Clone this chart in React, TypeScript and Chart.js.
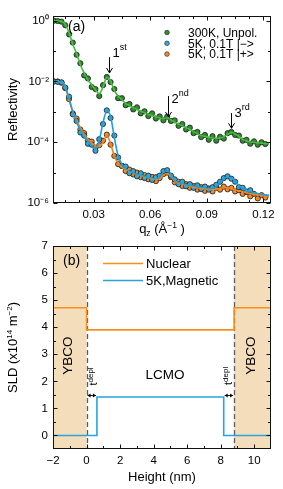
import React, { useEffect, useRef } from "react";
import { Chart, registerables } from "chart.js";

Chart.register(...registerables);

const FONT = "'Liberation Sans', Arial, Helvetica, sans-serif";

// ---------------- Panel (a): reflectivity (values are log10 R) ----------------
const qPoints = [0.009, 0.011, 0.013, 0.015, 0.017, 0.019, 0.021, 0.023, 0.025, 0.027, 0.029, 0.031, 0.033, 0.035, 0.037, 0.039, 0.041, 0.043, 0.045, 0.047, 0.049, 0.051, 0.053, 0.055, 0.057, 0.059, 0.061, 0.063, 0.065, 0.067, 0.069, 0.071, 0.073, 0.075, 0.077, 0.079, 0.081, 0.083, 0.085, 0.087, 0.089, 0.091, 0.093, 0.095, 0.097, 0.099, 0.101, 0.103, 0.105, 0.107, 0.109, 0.111, 0.113, 0.115, 0.117, 0.119, 0.121];
const qFit = [...qPoints, 0.123];

const green300KLog = [0.0, -0.01, -0.03, -0.15, -0.45, -0.72, -1.12, -1.4, -1.8, -1.9, -2.18, -2.25, -2.48, -2.12, -1.85, -2.02, -2.25, -2.55, -2.55, -2.78, -2.74, -2.92, -2.85, -3.05, -2.98, -3.14, -3.05, -3.22, -3.15, -3.28, -3.16, -3.3, -3.28, -3.46, -3.4, -3.58, -3.52, -3.7, -3.66, -3.83, -3.76, -3.92, -3.8, -3.95, -3.82, -3.88, -3.7, -3.66, -3.76, -3.78, -3.95, -3.92, -4.05, -3.97, -4.08, -4.0, -4.06];
const blue5KLog = [-2.0, -2.01, -2.03, -2.2, -2.5, -3.08, -3.3, -3.68, -3.78, -4.05, -4.08, -4.28, -3.9, -3.4, -2.95, -3.2, -3.78, -4.5, -4.78, -4.8, -5.02, -4.95, -5.12, -5.02, -5.18, -5.1, -5.24, -5.15, -5.1, -4.95, -4.92, -5.1, -5.22, -5.38, -5.3, -5.45, -5.38, -5.5, -5.42, -5.54, -5.46, -5.56, -5.48, -5.4, -5.3, -5.18, -5.12, -5.2, -5.3, -5.48, -5.5, -5.62, -5.58];
const orange5KLog = [-2.0, -2.0, -2.04, -2.22, -2.58, -3.05, -3.22, -3.58, -3.7, -3.95, -3.98, -4.18, -4.1, -3.95, -3.75, -4.08, -4.45, -4.72, -4.78, -4.95, -4.9, -5.06, -5.0, -5.15, -5.08, -5.22, -5.14, -5.28, -5.18, -5.05, -5.0, -5.15, -5.32, -5.3, -5.44, -5.38, -5.5, -5.44, -5.56, -5.48, -5.6, -5.52, -5.62, -5.5, -5.56, -5.46, -5.55, -5.5, -5.62, -5.58, -5.7, -5.64, -5.78, -5.7, -5.85, -5.74, -5.82];

const green300KFitLog = [0.0, 0.0, -0.02, -0.12, -0.4, -0.78, -1.08, -1.45, -1.72, -1.95, -2.1, -2.28, -2.4, -2.18, -1.87, -1.98, -2.3, -2.48, -2.6, -2.72, -2.8, -2.86, -2.92, -2.98, -3.03, -3.08, -3.12, -3.16, -3.2, -3.22, -3.2, -3.26, -3.34, -3.4, -3.46, -3.52, -3.58, -3.65, -3.72, -3.77, -3.81, -3.84, -3.86, -3.87, -3.86, -3.82, -3.74, -3.68, -3.72, -3.82, -3.9, -3.96, -3.99, -4.01, -4.02, -4.03, -4.04, -4.05];
const blue5KFitLog = [-2.0, -2.0, -2.02, -2.15, -2.55, -3.0, -3.35, -3.6, -3.82, -3.97, -4.12, -4.22, -3.95, -3.35, -2.98, -3.15, -3.85, -4.45, -4.72, -4.86, -4.95, -5.0, -5.05, -5.08, -5.12, -5.15, -5.18, -5.2, -5.14, -4.98, -4.93, -5.05, -5.25, -5.32, -5.36, -5.4, -5.42, -5.44, -5.46, -5.48, -5.5, -5.52, -5.52, -5.46, -5.32, -5.2, -5.15, -5.17, -5.28, -5.42, -5.53, -5.58, -5.63, -5.66, -5.69, -5.71, -5.73, -5.75];
const orange5KFitLog = [-2.0, -2.0, -2.02, -2.18, -2.62, -3.0, -3.28, -3.52, -3.75, -3.9, -4.02, -4.12, -4.15, -4.0, -3.78, -4.05, -4.45, -4.7, -4.83, -4.9, -4.96, -5.01, -5.06, -5.1, -5.14, -5.17, -5.2, -5.22, -5.2, -5.08, -5.03, -5.12, -5.28, -5.35, -5.38, -5.42, -5.45, -5.48, -5.5, -5.52, -5.54, -5.55, -5.56, -5.55, -5.52, -5.5, -5.5, -5.53, -5.57, -5.6, -5.63, -5.66, -5.69, -5.71, -5.73, -5.75, -5.76, -5.77];

const seriesLabelsA = ["300K, Unpol.", "5K, 0.1T |\u2212>", "5K, 0.1T |+>"];
const xTicksA = [0.03, 0.06, 0.09, 0.12];
const xMinorA = [0.015, 0.0225, 0.0375, 0.045, 0.0525, 0.0675, 0.075, 0.0825, 0.0975, 0.105, 0.1125];
const yTicksA = [1e-6, 1e-4, 1e-2, 1];
const yMinorA = [1e-5, 1e-3, 1e-1];
// Bragg-peak markers: label, superscript, q, arrow top/bottom (log10 R), label baseline (log10 R)
const braggMarks = [
  { n: "1", sup: "st", q: 0.0381, top: -1.2, bottom: -1.72, text: -1.19 },
  { n: "2", sup: "nd", q: 0.0694, top: -2.48, bottom: -3.17, text: -2.72 },
  { n: "3", sup: "rd", q: 0.1026, top: -3.04, bottom: -3.54, text: -3.18 },
];

// ---------------- Panel (b): SLD profile ----------------
const nuclearX = [-2, 0, 0, 8.8, 8.8, 11];
const nuclearY = [4.72, 4.72, 3.9, 3.9, 4.72, 4.72];
const magneticX = [-2, 0.62, 0.62, 8.18, 8.18, 11];
const magneticY = [0, 0, 1.42, 1.42, 0, 0];
const ybcoRegions = [[-2, 0], [8.8, 11]];
const interfaces = [0, 8.8];
const depletion = [[0, 0.62], [8.18, 8.8]];
const seriesLabelsB = ["Nuclear", "5K,Magnetic"];
const xTicksB = [-2, 0, 2, 4, 6, 8, 10];
const xMinorB = [-1, 1, 3, 5, 7, 9];
const yTicksB = [0, 1, 2, 3, 4, 5, 6, 7];
const yMinorB = [0.5, 1.5, 2.5, 3.5, 4.5, 5.5, 6.5];

const C = {
  greenPt: "#2f8c2f",
  bluePt: "#35a7d8",
  orangePt: "#f28a2a",
  greenLn: "#49bb3f",
  blueLn: "#1f9fd8",
  orangeLn: "#f4821e",
  nuclear: "#f7901e",
  magnetic: "#27a5dd",
  tan: "#f4ddba",
};

const SUP: Record<string, string> = { "0": "\u2070", "1": "\u00b9", "2": "\u00b2", "3": "\u00b3", "4": "\u2074", "5": "\u2075", "6": "\u2076", "-": "\u207b" };
const pow10Label = (v: number) =>
  "10" + String(Math.round(Math.log10(v))).split("").map((c) => SUP[c]).join("");

type Part = { t: string; size: number; dy?: number };

function richWidth(ctx: CanvasRenderingContext2D, parts: Part[]) {
  let w = 0;
  for (const p of parts) {
    ctx.font = `${p.size}px ${FONT}`;
    w += ctx.measureText(p.t).width;
  }
  return w;
}

// draws rich text whose visual centre is (cx, cy), rotated by angle
function drawRichCentered(ctx: CanvasRenderingContext2D, parts: Part[], cx: number, cy: number, angle = 0) {
  ctx.save();
  ctx.translate(cx, cy);
  ctx.rotate(angle);
  ctx.textAlign = "left";
  ctx.textBaseline = "alphabetic";
  ctx.fillStyle = "#000";
  let x = -richWidth(ctx, parts) / 2;
  const base = parts[0].size * 0.36;
  for (const p of parts) {
    ctx.font = `${p.size}px ${FONT}`;
    ctx.fillText(p.t, x, base + (p.dy || 0));
    x += ctx.measureText(p.t).width;
  }
  ctx.restore();
}

function drawRichLeft(ctx: CanvasRenderingContext2D, parts: Part[], x: number, baseline: number) {
  ctx.save();
  ctx.textAlign = "left";
  ctx.textBaseline = "alphabetic";
  ctx.fillStyle = "#000";
  for (const p of parts) {
    ctx.font = `${p.size}px ${FONT}`;
    ctx.fillText(p.t, x, baseline + (p.dy || 0));
    x += ctx.measureText(p.t).width;
  }
  ctx.restore();
}

function drawFrame(chart: any, xMaj: number[], xMin: number[], yMaj: number[], yMin: number[]) {
  const { ctx, chartArea: a } = chart;
  const xs = chart.scales.x;
  const ys = chart.scales.y;
  const L = Math.round(a.left) + 0.5;
  const R = Math.round(a.right) - 0.5;
  const T = Math.round(a.top) + 0.5;
  const B = Math.round(a.bottom) - 0.5;
  ctx.save();
  ctx.strokeStyle = "#111";
  ctx.lineWidth = 1;
  ctx.strokeRect(L, T, R - L, B - T);
  ctx.beginPath();
  const xt = (vals: number[], len: number) => {
    for (const v of vals) {
      const p = Math.round(xs.getPixelForValue(v)) + 0.5;
      ctx.moveTo(p, B); ctx.lineTo(p, B - len);
      ctx.moveTo(p, T); ctx.lineTo(p, T + len);
    }
  };
  const yt = (vals: number[], len: number) => {
    for (const v of vals) {
      const p = Math.round(ys.getPixelForValue(v)) + 0.5;
      ctx.moveTo(L, p); ctx.lineTo(L + len, p);
      ctx.moveTo(R, p); ctx.lineTo(R - len, p);
    }
  };
  xt(xMaj, 4); xt(xMin, 2.5); yt(yMaj, 4); yt(yMin, 2.5);
  ctx.stroke();
  ctx.restore();
}

const panelAPlugin = {
  id: "panelA",
  afterDraw(chart: any) {
    const { ctx, chartArea: a } = chart;
    const xs = chart.scales.x;
    const ys = chart.scales.y;
    drawFrame(chart, xTicksA, xMinorA, yTicksA, yMinorA);

    // Bragg peak arrows
    ctx.save();
    ctx.strokeStyle = "#000";
    ctx.lineWidth = 1;
    for (const m of braggMarks) {
      const px = Math.round(xs.getPixelForValue(m.q)) + 0.5;
      const y1 = ys.getPixelForValue(Math.pow(10, m.top));
      const y2 = ys.getPixelForValue(Math.pow(10, m.bottom));
      ctx.beginPath();
      ctx.moveTo(px, y1); ctx.lineTo(px, y2);
      ctx.moveTo(px - 3, y2 - 5); ctx.lineTo(px, y2); ctx.lineTo(px + 3, y2 - 5);
      ctx.stroke();
      const yb = ys.getPixelForValue(Math.pow(10, m.text));
      drawRichLeft(ctx, [{ t: m.n, size: 13 }, { t: m.sup, size: 9, dy: -7 }], px + 3, yb);
    }
    ctx.restore();

    // (a)
    drawRichLeft(ctx, [{ t: "(a)", size: 14 }], a.left + 15, a.top + 14.5);

    // legend
    const cols = [C.greenPt, C.bluePt, C.orangePt];
    seriesLabelsA.forEach((lab, i) => {
      const cy = a.top + 16.5 + i * 10.8;
      ctx.save();
      ctx.fillStyle = cols[i];
      ctx.strokeStyle = "#1c1c1c";
      ctx.lineWidth = 0.6;
      ctx.beginPath();
      ctx.arc(a.right - 104, cy, 2.3, 0, Math.PI * 2);
      ctx.fill();
      ctx.stroke();
      ctx.restore();
      drawRichLeft(ctx, [{ t: lab, size: 12 }], a.right - 83, cy + 4.3);
    });

    // axis titles
    drawRichCentered(ctx, [{ t: "Reflectivity", size: 13 }], 12.5, (a.top + a.bottom) / 2, -Math.PI / 2);
    drawRichCentered(
      ctx,
      [
        { t: "q", size: 13 },
        { t: "z", size: 8.5, dy: 2.5 },
        { t: " (\u00c5", size: 13 },
        { t: "\u22121", size: 8.5, dy: -5.5 },
        { t: " )", size: 13 },
      ],
      (a.left + a.right) / 2,
      a.bottom + 25.5
    );
  },
};

const panelBPlugin = {
  id: "panelB",
  beforeDatasetsDraw(chart: any) {
    const { ctx, chartArea: a } = chart;
    const xs = chart.scales.x;
    ctx.save();
    ctx.fillStyle = C.tan;
    for (const [x0, x1] of ybcoRegions) {
      const p0 = xs.getPixelForValue(x0);
      const p1 = xs.getPixelForValue(x1);
      ctx.fillRect(p0, a.top, p1 - p0, a.bottom - a.top);
    }
    ctx.strokeStyle = "#5c5c5c";
    ctx.lineWidth = 1.3;
    ctx.setLineDash([5, 3]);
    for (const v of interfaces) {
      const p = Math.round(xs.getPixelForValue(v)) + 0.5;
      ctx.beginPath();
      ctx.moveTo(p, a.top);
      ctx.lineTo(p, a.bottom);
      ctx.stroke();
    }
    ctx.restore();
  },
  afterDraw(chart: any) {
    const { ctx, chartArea: a } = chart;
    const xs = chart.scales.x;
    const ys = chart.scales.y;
    drawFrame(chart, xTicksB, xMinorB, yTicksB, yMinorB);

    // depletion-layer double arrows
    ctx.save();
    ctx.strokeStyle = "#000";
    ctx.fillStyle = "#000";
    ctx.lineWidth = 0.9;
    for (const [x0, x1] of depletion) {
      const p0 = xs.getPixelForValue(x0) + 1;
      const p1 = xs.getPixelForValue(x1) - 1;
      const py = Math.round(ys.getPixelForValue(1.5)) + 0.5;
      ctx.beginPath();
      ctx.moveTo(p0, py); ctx.lineTo(p1, py);
      ctx.stroke();
      ctx.beginPath();
      ctx.moveTo(p0, py); ctx.lineTo(p0 + 3, py - 2); ctx.lineTo(p0 + 3, py + 2); ctx.closePath();
      ctx.moveTo(p1, py); ctx.lineTo(p1 - 3, py - 2); ctx.lineTo(p1 - 3, py + 2); ctx.closePath();
      ctx.fill();
    }
    ctx.restore();

    const tdepl: Part[] = [{ t: "t", size: 11 }, { t: "depl", size: 8, dy: -4.5 }];
    drawRichCentered(ctx, tdepl, xs.getPixelForValue(0.39), ys.getPixelForValue(2.18), -Math.PI / 2);
    drawRichCentered(ctx, tdepl, xs.getPixelForValue(8.44), ys.getPixelForValue(2.2), -Math.PI / 2);
    drawRichCentered(ctx, [{ t: "LCMO", size: 13.5 }], xs.getPixelForValue(4.68), ys.getPixelForValue(2.25));
    drawRichCentered(ctx, [{ t: "YBCO", size: 13.5 }], xs.getPixelForValue(-1.16), ys.getPixelForValue(2.95), -Math.PI / 2);
    drawRichCentered(ctx, [{ t: "YBCO", size: 13.5 }], xs.getPixelForValue(9.75), ys.getPixelForValue(2.95), -Math.PI / 2);

    // (b)
    drawRichLeft(ctx, [{ t: "(b)", size: 14 }], a.left + 10, a.top + 19);

    // legend
    const cols = [C.nuclear, C.magnetic];
    seriesLabelsB.forEach((lab, i) => {
      const cy = Math.round(a.top + 17.3 + i * 16.7) + 0.5;
      ctx.save();
      ctx.strokeStyle = cols[i];
      ctx.lineWidth = 1.6;
      ctx.beginPath();
      ctx.moveTo(a.left + 50, cy);
      ctx.lineTo(a.left + 90, cy);
      ctx.stroke();
      ctx.restore();
      drawRichLeft(ctx, [{ t: lab, size: 13 }], a.left + 93, cy + 4.6);
    });

    // axis titles
    drawRichCentered(
      ctx,
      [
        { t: "SLD (x10", size: 13 },
        { t: "14", size: 8, dy: -5 },
        { t: " m", size: 13 },
        { t: "\u22122", size: 8, dy: -5 },
        { t: ")", size: 13 },
      ],
      12.5,
      (a.top + a.bottom) / 2,
      -Math.PI / 2
    );
    drawRichCentered(ctx, [{ t: "Height (nm)", size: 13 }], (a.left + a.right) / 2, a.bottom + 27.7);
  },
};

const tickFont = { family: FONT, size: 11.5 };

function pts(xs: number[], logs: number[]) {
  return logs.map((v, i) => ({ x: xs[i], y: Math.pow(10, v) }));
}
function xy(xs: number[], ys: number[]) {
  return ys.map((v, i) => ({ x: xs[i], y: v }));
}

function pointSet(label: string, data: any[], color: string) {
  return {
    type: "scatter" as const,
    label,
    data,
    showLine: false,
    pointRadius: 2.6,
    pointBackgroundColor: color,
    pointBorderColor: "#1c1c1c",
    pointBorderWidth: 0.8,
    order: 1,
  };
}
function fitSet(label: string, data: any[], color: string) {
  return {
    type: "line" as const,
    label,
    data,
    borderColor: color,
    borderWidth: 1.6,
    pointRadius: 0,
    fill: false,
    cubicInterpolationMode: "monotone" as const,
    order: 0,
  };
}

export default function App() {
  const topRef = useRef<HTMLCanvasElement>(null);
  const botRef = useRef<HTMLCanvasElement>(null);

  useEffect(() => {
    const top = new Chart(topRef.current as HTMLCanvasElement, {
      type: "scatter",
      data: {
        datasets: [
          pointSet(seriesLabelsA[0], pts(qPoints, green300KLog), C.greenPt),
          pointSet(seriesLabelsA[1], pts(qPoints, blue5KLog), C.bluePt),
          pointSet(seriesLabelsA[2], pts(qPoints, orange5KLog), C.orangePt),
          fitSet("fit 300K", pts(qFit, green300KFitLog), C.greenLn),
          fitSet("fit 5K |->", pts(qFit, blue5KFitLog), C.blueLn),
          fitSet("fit 5K |+>", pts(qFit, orange5KFitLog), C.orangeLn),
        ] as any,
      },
      options: {
        responsive: false,
        animation: false,
        devicePixelRatio: 1,
        layout: { padding: { top: 16, right: 12, left: 0, bottom: 0 } },
        plugins: { legend: { display: false }, tooltip: { enabled: false } },
        scales: {
          x: {
            type: "linear",
            min: 0.0085,
            max: 0.124,
            grid: { display: false, drawTicks: false },
            border: { display: false },
            ticks: { font: tickFont, color: "#000", padding: 5, maxRotation: 0, autoSkip: false, callback: (v: any) => Number(v).toFixed(2) },
            afterBuildTicks: (s: any) => { s.ticks = xTicksA.map((v) => ({ value: v })); },
            afterFit: (s: any) => { s.height = 37; },
          },
          y: {
            type: "logarithmic",
            min: 1e-6,
            max: 1.43,
            grid: { display: false, drawTicks: false },
            border: { display: false },
            ticks: { font: tickFont, color: "#000", padding: 4, autoSkip: false, callback: (v: any) => pow10Label(Number(v)) },
            afterBuildTicks: (s: any) => { s.ticks = yTicksA.map((v) => ({ value: v })); },
            afterFit: (s: any) => { s.width = 53; },
          },
        },
      } as any,
      plugins: [panelAPlugin],
    });

    const bottom = new Chart(botRef.current as HTMLCanvasElement, {
      type: "scatter",
      data: {
        datasets: [
          { label: seriesLabelsB[0], data: xy(nuclearX, nuclearY), showLine: true, borderColor: C.nuclear, borderWidth: 1.6, pointRadius: 0, fill: false },
          { label: seriesLabelsB[1], data: xy(magneticX, magneticY), showLine: true, borderColor: C.magnetic, borderWidth: 1.6, pointRadius: 0, fill: false },
        ],
      },
      options: {
        responsive: false,
        animation: false,
        devicePixelRatio: 1,
        layout: { padding: { top: 20, right: 12, left: 0, bottom: 0 } },
        plugins: { legend: { display: false }, tooltip: { enabled: false } },
        scales: {
          x: {
            type: "linear",
            min: -2,
            max: 11,
            grid: { display: false, drawTicks: false },
            border: { display: false },
            ticks: { font: tickFont, color: "#000", padding: 5, maxRotation: 0, autoSkip: false, callback: (v: any) => (Number(v) < 0 ? "\u2212" + Math.abs(Number(v)) : String(v)) },
            afterBuildTicks: (s: any) => { s.ticks = xTicksB.map((v) => ({ value: v })); },
            afterFit: (s: any) => { s.height = 40; },
          },
          y: {
            type: "linear",
            min: -0.5,
            max: 7,
            grid: { display: false, drawTicks: false },
            border: { display: false },
            ticks: { font: tickFont, color: "#000", padding: 5, autoSkip: false, callback: (v: any) => String(v) },
            afterBuildTicks: (s: any) => { s.ticks = yTicksB.map((v) => ({ value: v })); },
            afterFit: (s: any) => { s.width = 53; },
          },
        },
      } as any,
      plugins: [panelBPlugin],
    });

    return () => {
      top.destroy();
      bottom.destroy();
    };
  }, []);

  return (
    <div style={{ position: "absolute", left: 0, top: 0, width: 283, height: 489, background: "#fff" }}>
      <canvas ref={topRef} width={283} height={240} style={{ position: "absolute", left: 0, top: 0, width: 283, height: 240 }} />
      <canvas ref={botRef} width={283} height={263} style={{ position: "absolute", left: 0, top: 226, width: 283, height: 263 }} />
    </div>
  );
}
